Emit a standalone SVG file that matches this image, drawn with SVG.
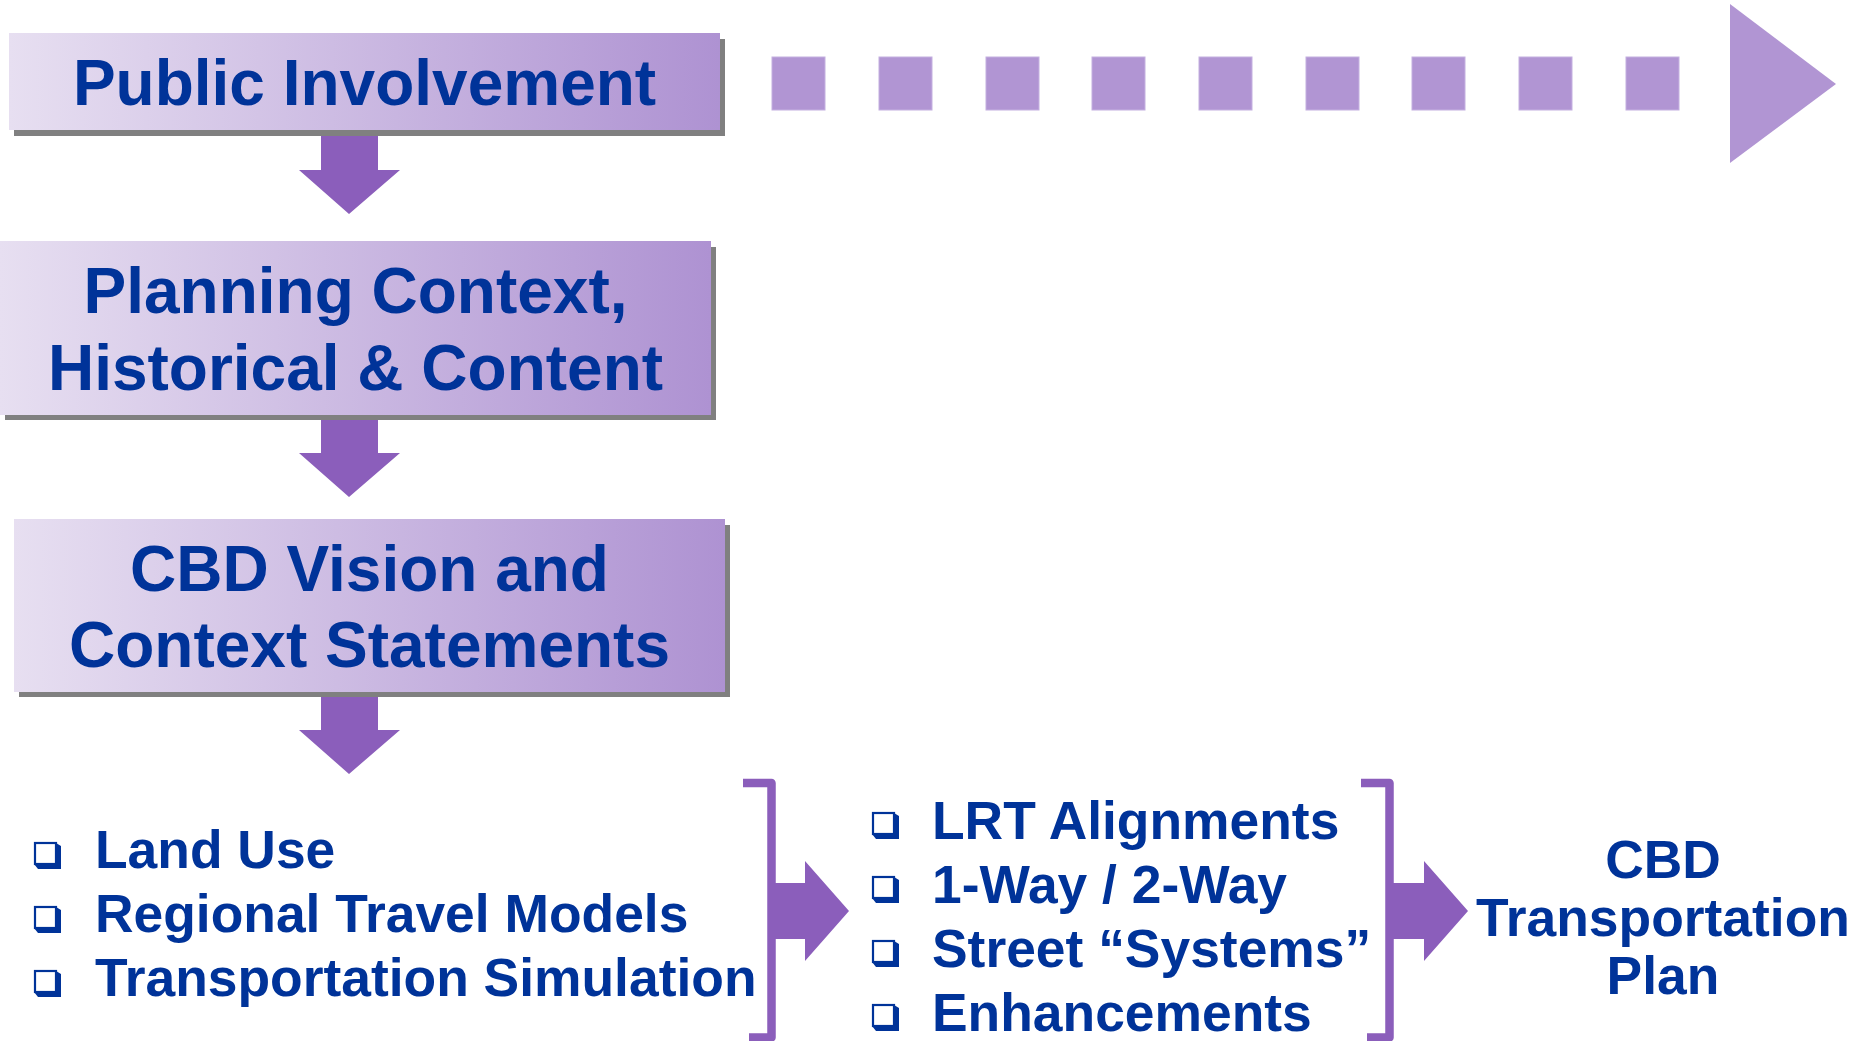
<svg xmlns="http://www.w3.org/2000/svg" xmlns:xlink="http://www.w3.org/1999/xlink" width="1862" height="1041" viewBox="0 0 1862 1041">
<defs>
<linearGradient id="boxg" x1="0" y1="0" x2="1" y2="0">
<stop offset="0" stop-color="#E7DFF1"/>
<stop offset="1" stop-color="#AE92D2"/>
</linearGradient>
<g id="bullet">
<path d="M22,1 L27,4 L27,27 L4,27 L0,22 L22,22 Z" fill="#003399"/>
<rect x="1" y="1" width="21" height="21" fill="#ffffff" stroke="#003399" stroke-width="2.2"/>
</g>
<style>
.shadow{fill:#808080}
.box{fill:url(#boxg)}
.title{font-family:"Liberation Sans",Arial,sans-serif;font-weight:bold;font-size:64px;fill:#003399;text-anchor:middle}
.item{font-family:"Liberation Sans",Arial,sans-serif;font-weight:bold;font-size:53.4px;fill:#003399}
.plan{font-family:"Liberation Sans",Arial,sans-serif;font-weight:bold;font-size:53.4px;fill:#003399;text-anchor:middle}
.flow{fill:#8B5EBB}
.dash{fill:#B195D3;stroke:#C4B0E0;stroke-width:1}
.bracket{fill:none;stroke:#8B5EBB;stroke-width:8.5;stroke-linejoin:round}
</style>
</defs>
<rect width="1862" height="1041" fill="#ffffff"/>

<g id="connectors">
<g id="timeline">
<rect class="dash" x="772" y="57" width="53" height="53"/>
<rect class="dash" x="879" y="57" width="53" height="53"/>
<rect class="dash" x="986" y="57" width="53" height="53"/>
<rect class="dash" x="1092" y="57" width="53" height="53"/>
<rect class="dash" x="1199" y="57" width="53" height="53"/>
<rect class="dash" x="1306" y="57" width="53" height="53"/>
<rect class="dash" x="1412" y="57" width="53" height="53"/>
<rect class="dash" x="1519" y="57" width="53" height="53"/>
<rect class="dash" x="1626" y="57" width="53" height="53"/>
<polygon points="1730,4 1836,84 1730,163" fill="#B195D3"/>
</g>
<polygon class="flow" points="321,134 378,134 378,170 400,170 349,214 299,170 321,170"/>
<polygon class="flow" points="321,417 378,417 378,453 400,453 349,497 299,453 321,453"/>
<polygon class="flow" points="321,693 378,693 378,730 400,730 349,774 299,730 321,730"/>
<path class="bracket" d="M743,783 H771.5 V1037.5 H749"/>
<polygon class="flow" points="771,883 805,883 805,861 849,911 805,961 805,939 771,939"/>
<path class="bracket" d="M1361,783 H1389.5 V1037.5 H1367"/>
<polygon class="flow" points="1389,883 1424,883 1424,861 1468,911 1424,961 1424,939 1389,939"/>
</g>

<g id="public-involvement">
<rect class="shadow" x="14" y="39" width="711" height="97"/>
<rect class="box" x="9" y="33" width="711" height="97"/>
<text class="title" x="364.5" y="105">Public Involvement</text>
</g>

<g id="planning-context">
<rect class="shadow" x="5" y="247" width="711" height="173"/>
<rect class="box" x="0" y="241" width="711" height="174"/>
<text class="title" x="355.5" y="313">Planning Context,</text>
<text class="title" x="355.5" y="390">Historical &amp; Content</text>
</g>

<g id="cbd-vision">
<rect class="shadow" x="19" y="525" width="711" height="172"/>
<rect class="box" x="14" y="519" width="711" height="173"/>
<text class="title" x="369.5" y="591">CBD Vision and</text>
<text class="title" x="369.5" y="667">Context Statements</text>
</g>

<g id="inputs">
<use xlink:href="#bullet" href="#bullet" x="34" y="842"/>
<use xlink:href="#bullet" href="#bullet" x="34" y="906"/>
<use xlink:href="#bullet" href="#bullet" x="34" y="970"/>
<text class="item" x="95" y="868">Land Use</text>
<text class="item" x="95" y="932">Regional Travel Models</text>
<text class="item" x="95" y="996">Transportation Simulation</text>
</g>

<g id="outputs">
<use xlink:href="#bullet" href="#bullet" x="872" y="812"/>
<use xlink:href="#bullet" href="#bullet" x="872" y="876"/>
<use xlink:href="#bullet" href="#bullet" x="872" y="940"/>
<use xlink:href="#bullet" href="#bullet" x="872" y="1004"/>
<text class="item" x="932" y="839">LRT Alignments</text>
<text class="item" x="932" y="903">1-Way / 2-Way</text>
<text class="item" x="932" y="967">Street “Systems”</text>
<text class="item" x="932" y="1031">Enhancements</text>
</g>

<g id="cbd-plan">
<text class="plan" x="1663" y="878">CBD</text>
<text class="plan" x="1663" y="936">Transportation</text>
<text class="plan" x="1663" y="994">Plan</text>
</g>
</svg>
